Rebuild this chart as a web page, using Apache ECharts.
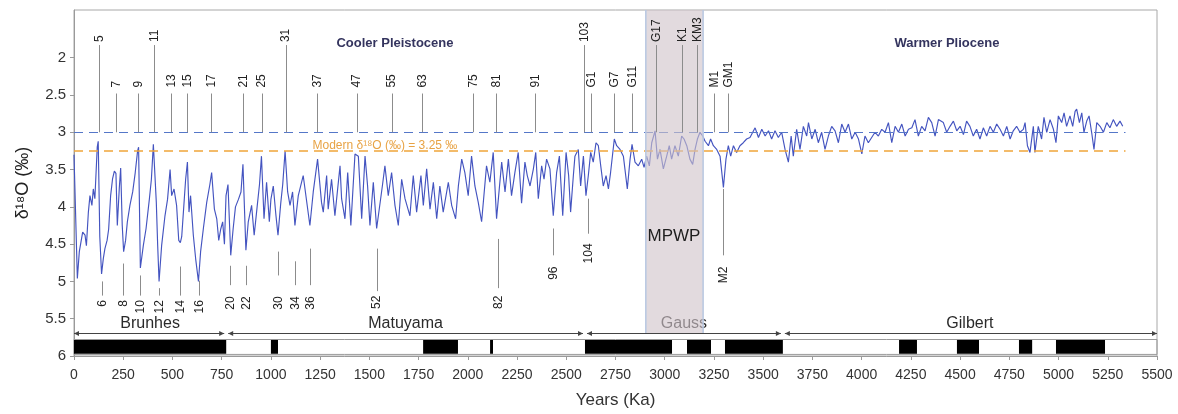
<!DOCTYPE html>
<html><head><meta charset="utf-8">
<script src="https://cdn.jsdelivr.net/npm/echarts@6/dist/echarts.min.js"></script>
<style>html,body{margin:0;padding:0;background:#fff}#c{width:1178px;height:414px}</style>
</head><body><div id="c"></div>
<script>
// ---- data: benthic δ18O record ----
const ageKa = [
0,17,27,44,56,63,73,81,91,98,106,118,123,131,140,149,157,168,176,186,196,205,213,220,230,237,245,252,262,271,284,298,311,323,328,337,352,366,383,393,403,408,418,425,432,445,462,475,488,496,508,521,532,540,547,560,567,576,584,592,606,618,632,643,657,674,690,699,713,725,735,745,755,764,772,782,796,808,820,835,848,858,873,885,902,915,930,942,952,965,978,992,1000,1012,1025,1036,1050,1060,1072,1085,1097,1110,
1122,1139,1164,1198,1215,1237,1257,1266,1283,1291,1308,1325,1351,1359,1376,1390,1406,1427,1444,1461,1478,1491,1503,1520,1537,1566,1579,1596,1613,1630,1647,1664,1681,1706,1723,1740,1762,1774,1791,1808,1825,1842,1858,1875,1901,1918,1938,1952,1969,1985,2002,2019,2036,2053,2070,2095,2112,2129,2146,2172,2189,2206,2222,2239,2256,2273,2290,
2302,2316,2333,2345,2358,2375,2387,2400,2417,2434,2451,2465,2482,2499,2512,2522,2536,2544,2561,2573,2587,2600,2612,2624,2637,2651,2663,2675,2688,2702,2714,2725,2744,2756,2773,2790,2810,2824,2834,2849,2866,2883,2895,2908,2922,2934,2951,2963,2976,2993,3010,3023,3035,3052,3069,3086,3098,3112,3128,3142,3154,3166,3179,3193,3205,3222,3233,3247,3264,3281,3298,3311,3323,3335,3349,3365,3382,3399,3416,3433,
3442,3459,3476,3493,3510,3527,3543,3560,3577,3594,3611,3628,3642,3653,3670,3687,3704,3721,3730,3747,3764,3780,3797,3814,3831,3848,3865,3882,3899,3916,3933,3950,3967,3984,4001,4017,4034,4051,4068,4085,4102,4119,4136,4153,4170,4187,4204,4221,4238,4255,4271,4288,4305,4322,4339,4356,4373,4390,
4415,4432,4449,4466,4483,4500,4517,4533,4550,4567,4584,4601,4618,4635,4652,4669,4686,4703,4720,4737,4754,4770,4787,4804,4821,4830,4842,4855,4872,4880,4897,4914,4926,4940,4957,4974,4987,4999,5016,5028,5041,5058,5072,5084,5092,5106,5118,5129,5143,5155,5168,5180,5194,5211,5228,5245,5261,5278,5295,5312,5326
];
const d18O = [
3.30,4.96,4.60,4.34,4.38,4.52,4.07,3.85,3.98,3.76,3.89,3.20,3.12,4.40,4.90,4.69,4.56,4.45,4.30,3.85,3.62,3.52,3.55,4.25,3.75,3.48,4.25,4.60,4.45,4.20,3.98,3.80,3.54,3.25,3.20,4.82,4.52,4.29,3.89,3.63,3.16,3.14,3.94,4.52,5.00,4.52,4.12,3.90,3.50,3.85,3.76,3.98,4.45,4.48,4.40,3.90,3.63,3.40,4.07,3.85,4.38,4.70,5.00,4.60,4.29,3.94,3.70,3.54,4.03,4.16,4.45,4.30,4.20,4.50,3.85,3.70,4.65,4.30,4.00,3.90,3.80,3.43,4.58,4.20,3.98,4.38,4.00,3.70,3.32,4.16,3.67,4.20,3.90,3.72,4.10,4.38,3.95,3.70,3.25,3.80,3.98,3.80,
4.25,3.85,3.58,4.25,3.80,3.36,3.94,4.07,3.58,4.03,3.63,4.12,3.45,3.89,4.16,3.54,4.25,3.29,3.32,4.16,3.32,3.72,4.25,3.67,4.29,3.72,3.45,3.85,3.54,3.98,4.25,3.63,3.89,4.12,3.58,4.07,3.58,3.98,3.49,4.03,3.67,4.16,3.72,4.07,3.67,3.98,4.16,3.72,3.36,3.54,3.85,3.32,3.72,3.94,4.20,3.45,3.67,3.27,4.16,3.40,3.80,3.36,3.85,3.54,3.27,3.95,3.40,
3.58,3.72,3.49,3.27,3.89,3.45,3.63,3.36,3.49,4.12,3.54,3.32,4.12,3.27,3.58,4.07,3.58,3.32,3.23,3.72,3.32,3.85,3.58,3.27,3.40,3.14,3.18,3.45,3.72,3.58,3.76,3.54,3.09,3.18,3.23,3.32,3.76,3.36,3.16,3.40,3.45,3.36,3.47,3.32,3.45,3.14,2.98,3.36,3.23,3.49,3.32,3.18,3.36,3.18,3.32,3.05,3.09,3.18,3.36,3.43,3.23,3.09,3.00,3.05,3.12,3.18,3.09,3.18,3.23,3.32,3.74,3.36,3.18,3.32,3.18,3.27,3.18,3.14,3.09,3.07,
3.05,2.94,3.07,2.96,3.05,2.98,3.09,2.98,3.07,3.00,3.23,3.40,3.05,3.32,2.96,3.23,2.92,3.05,2.87,3.09,2.96,3.14,3.00,3.23,3.05,2.92,2.98,3.14,2.89,3.00,2.89,3.09,3.00,3.09,3.29,3.05,3.14,3.07,3.00,3.05,2.96,3.00,2.87,3.14,2.92,3.00,2.89,3.05,2.96,2.94,2.83,3.05,2.92,2.98,2.80,2.87,3.05,2.83,
2.87,3.00,2.92,2.85,2.98,2.92,3.03,2.85,2.92,3.05,2.96,3.09,2.94,3.05,2.92,3.00,2.89,2.96,3.05,2.92,3.09,2.98,2.92,3.00,2.96,2.87,3.18,3.27,2.92,3.27,2.92,3.09,2.80,3.00,2.83,2.96,3.14,2.78,2.87,2.74,2.92,2.78,2.92,2.72,2.69,2.87,2.74,3.00,2.85,2.78,3.00,3.23,2.87,2.92,3.00,2.87,2.94,2.83,2.92,2.85,2.92
];
const yTicks = [2, 2.5, 3, 3.5, 4, 4.5, 5, 5.5, 6];
const modernValue = 3.25;
const upperRef = 3.0;
const refEndKa = 5340;

// marine isotope stage markers (top = warm stages)
const topLabels = ['5','7','9','11','13','15','17','21','25','31','37','47','55','63','75','81','91','103','G1','G7','G11','G17','K1','KM3','M1','GM1'];
const topKa =     [127,213,325,406,493,575,695,860,953,1075,1235,1435,1613,1768,2026,2143,2342,2590,2626,2742,2834,2956,3088,3164,3250,3321];
const topHigh =   [1,0,0,1,0,0,0,0,0,1,0,0,0,0,0,0,0,1,0,0,0,1,1,1,0,0];
// bottom = cold stages: [lineStart, lineEnd, labelTop] in ‰ units
const bottomLabels = ['6','8','10','12','14','16','20','22','30','34','36','52','82','96','104','M2'];
const bottomKa =     [141,248,337,432,540,635,792,872,1035,1122,1201,1537,2153,2433,2610,3296];
const bottomSpan = [[5.00,5.19,5.25],[4.76,5.19,5.25],[4.92,5.19,5.25],[5.09,5.19,5.25],[4.80,5.19,5.25],[4.99,5.19,5.25],
  [4.79,5.05,5.20],[4.79,5.05,5.20],[4.60,4.92,5.20],[4.73,5.05,5.20],[4.56,5.05,5.20],[4.56,5.13,5.19],[4.43,5.09,5.19],
  [4.29,4.65,4.80],[3.89,4.36,4.49],[3.76,4.65,4.80]];

// geomagnetic polarity
const normalPolarity = [[0,773],[1000,1036],[1773,1950],[2113,2128],[2595,3037],[3113,3235],[3306,3600],[4190,4281],[4484,4596],[4799,4866],[4987,5236]];
const chronNames = ['Brunhes','Matuyama','Gauss','Gilbert'];
const chronBounds = [0,773,2595,3600,5500];
const mpwpRange = [2904, 3195];

const FONT = '"Liberation Sans", Arial, sans-serif';
const chart = echarts.init(document.getElementById('c'), null, {renderer:'canvas'});
const lineData = ageKa.map((a,i)=>[a, d18O[i]]);
const Y_TOP = 1.36, Y_BOT = 6;

function topMarkerItem(params, api){
  const i = params.dataIndex, k = topKa[i], hi = topHigh[i];
  const base = hi ? 1.79 : 2.40, start = hi ? 1.83 : 2.48;
  const p0 = api.coord([k, start]), p1 = api.coord([k, upperRef]), pl = api.coord([k, base]);
  const x = Math.round(p0[0]) + 0.5;
  return {type:'group', children:[
    {type:'line', shape:{x1:x,y1:p0[1],x2:x,y2:p1[1]}, style:{stroke:'#8c8c8c', lineWidth:1}},
    {type:'text', x:pl[0]+0.5, y:pl[1], rotation:Math.PI/2,
     style:{text:topLabels[i], fill:'#222', font:'12px '+FONT, align:'left', verticalAlign:'middle'}}
  ]};
}
function bottomMarkerItem(params, api){
  const i = params.dataIndex, k = bottomKa[i], s = bottomSpan[i];
  const p0 = api.coord([k, s[0]]), p1 = api.coord([k, s[1]]), pl = api.coord([k, s[2]]);
  const x = Math.round(p0[0]) + 0.5;
  return {type:'group', children:[
    {type:'line', shape:{x1:x,y1:p0[1],x2:x,y2:p1[1]}, style:{stroke:'#8c8c8c', lineWidth:1}},
    {type:'text', x:pl[0]+0.5, y:pl[1], rotation:Math.PI/2,
     style:{text:bottomLabels[i], fill:'#222', font:'12px '+FONT, align:'right', verticalAlign:'middle'}}
  ]};
}
function polarityItem(params, api){
  const iv = normalPolarity[params.dataIndex];
  const a = api.coord([iv[0], 5.785]), b = api.coord([iv[1], 5.97]);
  return {type:'rect', shape:{x:a[0], y:a[1], width:b[0]-a[0], height:b[1]-a[1]}, style:{fill:'#000'}};
}
function chronItem(params, api){
  const i = params.dataIndex, a = chronBounds[i], b = chronBounds[i+1];
  const pa = api.coord([a, 5.693]), pb = api.coord([b, 5.693]);
  const xa = pa[0] + (i===0?0:2), xb = pb[0] - (i===chronNames.length-1?0:2), y = Math.round(pa[1])+0.5;
  const pm = api.coord([(a+b)/2, 5.56]);
  const children = [
    {type:'line', shape:{x1:xa,y1:y,x2:xb,y2:y}, style:{stroke:'#444', lineWidth:1}},
    {type:'polygon', shape:{points:[[xa,y],[xa+5,y-2.5],[xa+5,y+2.5]]}, style:{fill:'#444'}},
    {type:'polygon', shape:{points:[[xb,y],[xb-5,y-2.5],[xb-5,y+2.5]]}, style:{fill:'#444'}},
    {type:'text', x:pm[0], y:pm[1], style:{text:chronNames[i], fill:'#2a2a2a', font:'16px '+FONT, align:'center', verticalAlign:'middle'}}
  ];
  if (i===0){
    const t = api.coord([0, 5.775]), r = api.coord([5500, 5.975]);
    children.push({type:'rect', shape:{x:t[0], y:Math.round(t[1])+0.5, width:r[0]-t[0], height:r[1]-t[1]}, style:{fill:null, stroke:'#9a9a9a', lineWidth:1}});
  }
  return {type:'group', children};
}
function bandItem(params, api){
  const a = api.coord([mpwpRange[0], Y_TOP]), b = api.coord([mpwpRange[1], 5.69]);
  return {type:'group', children:[
    {type:'rect', shape:{x:a[0], y:a[1], width:b[0]-a[0], height:b[1]-a[1]}, style:{fill:'rgba(208,196,202,0.62)'}},
    {type:'line', shape:{x1:a[0],y1:a[1],x2:a[0],y2:b[1]}, style:{stroke:'#b8c8e2', lineWidth:1.5}},
    {type:'line', shape:{x1:b[0],y1:a[1],x2:b[0],y2:b[1]}, style:{stroke:'#b8c8e2', lineWidth:1.5}}
  ]};
}
const notes = [
  {text:'Cooler Pleistocene', ka:1630, v:1.81, font:'bold 13px '+FONT, fill:'#34345e'},
  {text:'Warmer Pliocene', ka:4433, v:1.81, font:'bold 13px '+FONT, fill:'#34345e'},
  {text:'MPWP', ka:3047, v:4.39, font:'17px '+FONT, fill:'#1e1e1e'},
  {text:'Modern δ¹⁸O (‰) = 3.25 ‰', ka:1579, v:3.175, font:'12px '+FONT, fill:'#e8a345'}
];
function noteItem(params, api){
  const n = notes[params.dataIndex];
  const p = api.coord([n.ka, n.v]);
  return {type:'text', x:p[0], y:p[1], style:{text:n.text, fill:n.fill, font:n.font, align:'center', verticalAlign:'middle'}};
}

chart.setOption({
  animation:false,
  grid:{left:74, right:21, top:10, bottom:56, show:true, borderColor:'#a8a8a8', borderWidth:1},
  xAxis:{type:'value', min:0, max:5500, interval:250,
    axisLine:{lineStyle:{color:'#9a9a9a'}}, axisTick:{length:4, lineStyle:{color:'#9a9a9a'}},
    axisLabel:{fontSize:14, color:'#333', margin:12, fontFamily:FONT, formatter:v=>String(v)}, splitLine:{show:false},
    name:'Years (Ka)', nameLocation:'middle', nameGap:36, nameTextStyle:{fontSize:17, color:'#333', fontFamily:FONT}},
  yAxis:{type:'value', inverse:true, min:Y_TOP, max:Y_BOT,
    axisLine:{show:true, lineStyle:{color:'#9a9a9a'}},
    axisTick:{show:true, customValues:yTicks, length:4, lineStyle:{color:'#9a9a9a'}},
    axisLabel:{customValues:yTicks, fontSize:15, color:'#333', margin:8, fontFamily:FONT, formatter:v=>String(v)},
    splitLine:{show:false},
    name:'δ¹⁸O (‰)', nameLocation:'middle', nameGap:42, nameTextStyle:{fontSize:18, color:'#222', fontFamily:FONT}},
  series:[
    {type:'custom', name:'chrons', data:chronNames.map((c,i)=>[chronBounds[i], 5.69]), renderItem:chronItem, clip:false, z:2, silent:true},
    {type:'custom', name:'polarity', data:normalPolarity.map(iv=>[iv[0], 5.88]), renderItem:polarityItem, clip:false, z:2, silent:true},
    {type:'line', name:'δ18O', data:lineData, showSymbol:false, symbol:'none', z:3,
      lineStyle:{color:'#4454c0', width:1.15},
      markLine:{silent:true, symbol:'none', label:{show:false},
        data:[
          [{coord:[0, upperRef], lineStyle:{color:'#5577c8', width:1.2, type:[9,6]}}, {coord:[refEndKa, upperRef]}],
          [{coord:[0, modernValue], lineStyle:{color:'#f0a53a', width:1.5, type:[9,6]}}, {coord:[refEndKa, modernValue]}]
        ]}},
    {type:'custom', name:'mpwp', data:[[mpwpRange[0], 3]], renderItem:bandItem, clip:false, z:5, silent:true},
    {type:'custom', name:'top', data:topKa.map(k=>[k, 3]), renderItem:topMarkerItem, clip:false, z:6, silent:true},
    {type:'custom', name:'bottom', data:bottomKa.map(k=>[k, 5]), renderItem:bottomMarkerItem, clip:false, z:6, silent:true},
    {type:'custom', name:'notes', data:notes.map(n=>[n.ka, n.v]), renderItem:noteItem, clip:false, z:7, silent:true}
  ]
});
</script></body></html>
